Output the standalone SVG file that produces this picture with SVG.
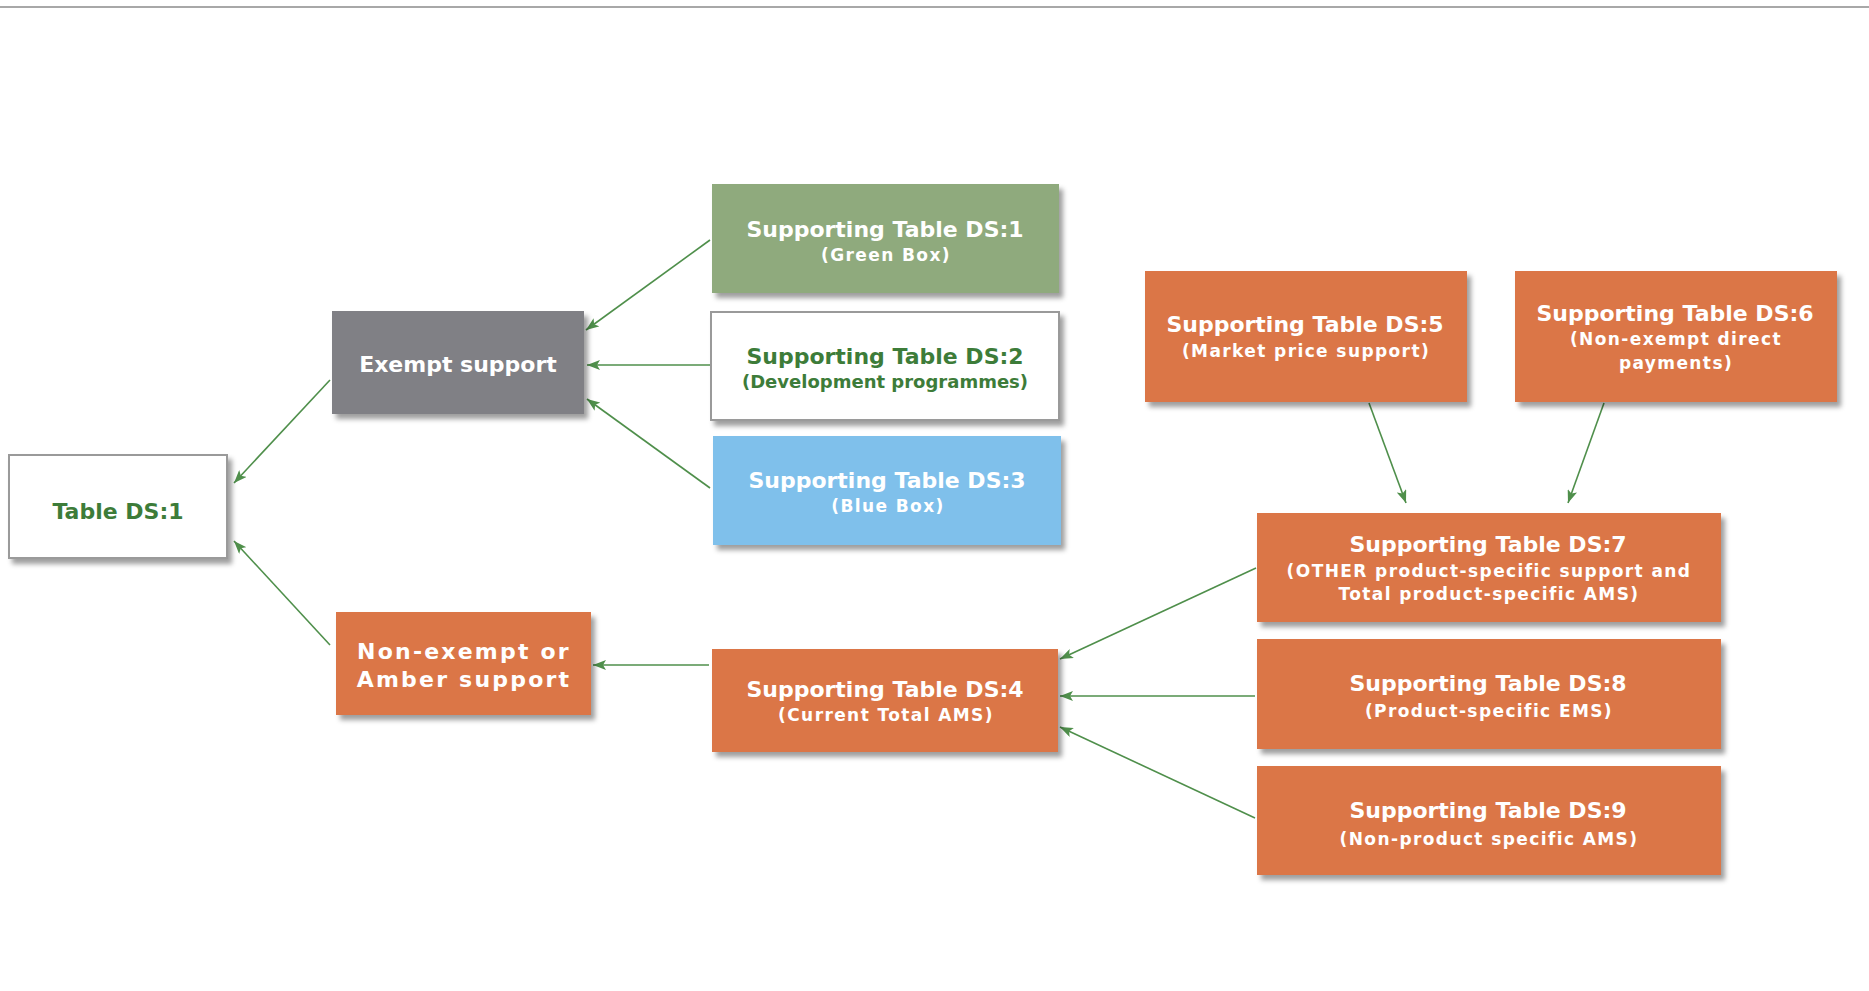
<svg xmlns="http://www.w3.org/2000/svg" width="1869" height="991" viewBox="0 0 1869 991">
<style>
text{font-family:"DejaVu Sans","Verdana",sans-serif;font-weight:bold;text-anchor:middle}
.t{font-size:22px;fill:#fff}
.s{font-size:17px;fill:#fff;letter-spacing:1.4px}
.g{fill:#3d7c39}
.big{font-size:22px;fill:#fff;letter-spacing:2.2px}
.or{fill:#db7647}
.wb{fill:#fff;stroke:#9a9a9a;stroke-width:2}
.c{stroke:#4f8f4b;stroke-width:1.6;fill:none;marker-end:url(#ah)}
</style>
<defs>
<filter id="sh" x="-10%" y="-10%" width="125%" height="130%">
<feDropShadow dx="4" dy="5" stdDeviation="2.5" flood-color="#000" flood-opacity="0.38"/>
</filter>
<marker id="ah" markerUnits="userSpaceOnUse" markerWidth="14" markerHeight="10" refX="13" refY="5" orient="auto">
<path d="M0,0 L13,5 L0,10 L3,5 z" fill="#4f8f4b"/>
</marker>
</defs>
<rect width="1869" height="991" fill="#fff"/>
<line x1="0" y1="7" x2="1869" y2="7" stroke="#a8a8a8" stroke-width="2"/>
<g id="connectors">
<line class="c" x1="710" y1="240" x2="586" y2="330"/>
<line class="c" x1="710" y1="365" x2="587" y2="365"/>
<line class="c" x1="710" y1="488" x2="587" y2="399"/>
<line class="c" x1="330" y1="380" x2="234" y2="483"/>
<line class="c" x1="330" y1="645" x2="234" y2="541"/>
<line class="c" x1="709" y1="665" x2="593" y2="665"/>
<line class="c" x1="1256" y1="568" x2="1060" y2="659"/>
<line class="c" x1="1255" y1="696" x2="1060" y2="696"/>
<line class="c" x1="1255" y1="818" x2="1060" y2="727"/>
<line class="c" x1="1369" y1="403" x2="1406" y2="503"/>
<line class="c" x1="1604" y1="403" x2="1568" y2="503"/>
</g>
<g id="table-ds1">
<rect class="wb" x="9" y="455" width="218" height="103" filter="url(#sh)"/>
<text class="t g" x="118" y="519">Table DS:1</text>
</g>
<g id="exempt">
<rect x="332" y="311" width="252" height="103" fill="#808085" filter="url(#sh)"/>
<text class="t" x="458" y="372">Exempt support</text>
</g>
<g id="nonexempt">
<rect class="or" x="336" y="612" width="255" height="103" filter="url(#sh)"/>
<text class="big" x="464" y="659">Non-exempt or</text>
<text class="big" x="464" y="687">Amber support</text>
</g>
<g id="st-ds1">
<rect x="712" y="184" width="347" height="109" fill="#8faa7d" filter="url(#sh)"/>
<text class="t" x="885" y="237">Supporting Table DS:1</text>
<text class="s" x="886" y="261">(Green Box)</text>
</g>
<g id="st-ds2">
<rect class="wb" x="711" y="312" width="348" height="108" filter="url(#sh)"/>
<text class="t g" x="885" y="364">Supporting Table DS:2</text>
<text class="g" x="885" y="388" font-size="18px">(Development programmes)</text>
</g>
<g id="st-ds3">
<rect x="713" y="436" width="348" height="109" fill="#7fc0eb" filter="url(#sh)"/>
<text class="t" x="887" y="488">Supporting Table DS:3</text>
<text class="s" x="888" y="512">(Blue Box)</text>
</g>
<g id="st-ds4">
<rect class="or" x="712" y="649" width="346" height="103" filter="url(#sh)"/>
<text class="t" x="885" y="697">Supporting Table DS:4</text>
<text class="s" x="886" y="721">(Current Total AMS)</text>
</g>
<g id="st-ds5">
<rect class="or" x="1145" y="271" width="322" height="131" filter="url(#sh)"/>
<text class="t" x="1305" y="332">Supporting Table DS:5</text>
<text class="s" x="1306" y="357">(Market price support)</text>
</g>
<g id="st-ds6">
<rect class="or" x="1515" y="271" width="322" height="131" filter="url(#sh)"/>
<text class="t" x="1675" y="321">Supporting Table DS:6</text>
<text class="s" x="1676" y="345">(Non-exempt direct</text>
<text class="s" x="1676" y="369">payments)</text>
</g>
<g id="st-ds7">
<rect class="or" x="1257" y="513" width="464" height="109" filter="url(#sh)"/>
<text class="t" x="1488" y="552">Supporting Table DS:7</text>
<text class="s" x="1489" y="577">(OTHER product-specific support and</text>
<text class="s" x="1489" y="600">Total product-specific AMS)</text>
</g>
<g id="st-ds8">
<rect class="or" x="1257" y="639" width="464" height="110" filter="url(#sh)"/>
<text class="t" x="1488" y="691">Supporting Table DS:8</text>
<text class="s" x="1489" y="717">(Product-specific EMS)</text>
</g>
<g id="st-ds9">
<rect class="or" x="1257" y="766" width="464" height="109" filter="url(#sh)"/>
<text class="t" x="1488" y="818">Supporting Table DS:9</text>
<text class="s" x="1489" y="845">(Non-product specific AMS)</text>
</g>
</svg>
